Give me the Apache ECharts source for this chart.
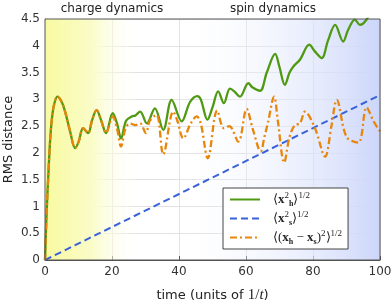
<!DOCTYPE html>
<html>
<head>
<meta charset="utf-8">
<script src="https://cdn.jsdelivr.net/npm/echarts@6/dist/echarts.min.js"></script>
<style>html,body{margin:0;padding:0;background:#fff}#c{width:391px;height:303px}</style>
</head>
<body>
<div id="c"></div>
<script>
// ---- data ----
var xTicks = [0, 20, 40, 60, 80, 100];
var yTicks = [0, 0.5, 1, 1.5, 2, 2.5, 3, 3.5, 4, 4.5];
var regionTitles = ['charge dynamics', 'spin dynamics'];
var seriesNames = ['h', 's', 'hs'];

var hT = [0,0.5,1,1.5,2,2.7,3.7,5,6,7.5,9,10,11.4,12.9,14,15.4,16.8,18.2,20.2,21.5,22.7,24.2,25.9,27,28.4,30.4,32.8,35.3,37.8,40.8,43.3,45.5,46.5,48.5,50,51.7,53.4,55.2,56.5,58.2,60.7,62,64.2,66.2,68.7,70,71.6,73,74.1,76.1,78.9,80.5,82.6,84.5,86.6,89,90.5,92.5,94,96,97.5];
var hV = [0,0.9,1.6,2.2,2.6,2.9,3.05,2.95,2.77,2.4,2.09,2.2,2.46,2.37,2.6,2.8,2.6,2.37,2.74,2.55,2.27,2.6,2.68,2.7,2.77,2.55,2.83,2.43,2.99,2.59,2.95,3.06,3.0,2.62,2.85,3.15,2.93,3.2,3.15,3.05,3.3,3.22,3.16,3.5,3.85,3.6,3.27,3.5,3.61,3.74,4.02,3.9,3.77,4.1,4.39,4.08,4.3,4.49,4.39,4.49,4.7];

var sT = [0, 100];
var sV = [0, 3.08];

var dT = [0,0.5,1,1.5,2,2.7,3.7,5,6,7.5,9,10,11.4,12.9,14,15.4,16.8,18.2,20.2,21.5,22.7,24,25.4,27,28.4,30.1,31.3,33.3,35.3,38.3,39.5,41.3,43.5,45.3,46.5,48.6,51.4,53.4,55,57.7,60.2,62,64.4,65.5,66.5,68.4,69.5,71.4,73,74.6,76.1,77.6,80.6,83.6,85.5,87.1,90,93.5,96,98,100];
var dV = [0,0.9,1.6,2.2,2.6,2.9,3.05,2.95,2.77,2.4,2.09,2.2,2.46,2.37,2.6,2.8,2.6,2.37,2.68,2.45,2.12,2.45,2.55,2.52,2.55,2.37,2.6,2.71,1.97,2.77,2.6,2.27,2.55,2.68,2.55,1.9,2.79,2.46,2.5,2.21,2.82,2.45,2.03,2.3,2.55,3.05,2.6,1.82,2.3,2.52,2.55,2.77,2.46,1.93,2.5,2.99,2.3,2.19,2.85,2.6,2.4];

function zip(a, b) { return a.map(function (t, i) { return [t, b[i]]; }); }

var chart = echarts.init(document.getElementById('c'), null, {renderer: 'canvas'});
var serif = 'Liberation Serif';
var sans = 'DejaVu Sans';
var richMath = {
  m: {fontFamily: serif, fontSize: 13, color: '#222', lineHeight: 17},
  b: {fontFamily: serif, fontSize: 13, fontWeight: 'bold', color: '#222', lineHeight: 17},
  sub: {fontFamily: serif, fontSize: 8, fontWeight: 'bold', color: '#222', verticalAlign: 'bottom', lineHeight: 17},
  sup: {fontFamily: serif, fontSize: 9, color: '#222', verticalAlign: 'top', lineHeight: 17}
};
var labels = {
  h: '{m|⟨}{b|x}{sup|2}{sub|h}{m|⟩}{sup|1/2}',
  s: '{m|⟨}{b|x}{sup|2}{sub|s}{m|⟩}{sup|1/2}',
  hs: '{m|⟨(}{b|x}{sub|h}{m| − }{b|x}{sub|s}{m|)}{sup|2}{m|⟩}{sup|1/2}'
};

chart.setOption({
  animation: false,
  grid: {left: 45, right: 11, top: 19, bottom: 43, outerBoundsMode: 'none', containLabel: false},
  title: [
    {text: regionTitles[0], left: 107, top: -2, textAlign: 'center', textStyle: {fontFamily: sans, fontSize: 12, fontWeight: 'normal', color: '#222'}},
    {text: regionTitles[1], left: 268, top: -2, textAlign: 'center', textStyle: {fontFamily: sans, fontSize: 12, fontWeight: 'normal', color: '#222'}}
  ],
  legend: {
    orient: 'vertical',
    left: 223, top: 188,
    backgroundColor: '#fff',
    borderColor: '#444', borderWidth: 1,
    padding: [3, 6, 3, 6],
    itemGap: 2, itemWidth: 30, itemHeight: 12,
    itemStyle: {opacity: 0},
    data: seriesNames.map(function (n) { return {name: n, itemStyle: {opacity: 0}}; }),
    formatter: function (n) { return labels[n]; },
    textStyle: {rich: richMath, padding: [0, 0, 0, 8]}
  },
  xAxis: {
    type: 'value', min: 0, max: 100, interval: 20,
    name: '{t|time (units of }{m|1/}{i|t}{t|)}', nameLocation: 'middle', nameGap: 28, nameMoveOverlap: false,
    nameTextStyle: {rich: {
      t: {fontFamily: sans, fontSize: 13, color: '#222'},
      m: {fontFamily: serif, fontSize: 15, color: '#222'},
      i: {fontFamily: serif, fontSize: 15, fontStyle: 'italic', color: '#222'}
    }},
    axisLine: {lineStyle: {color: '#555', width: 1}},
    axisTick: {inside: true, length: 4, lineStyle: {color: '#555'}},
    axisLabel: {fontFamily: sans, fontSize: 12, color: '#333', margin: 6,
      formatter: function (v) { return xTicks.indexOf(v) >= 0 ? String(v) : ''; }},
    splitLine: {show: true, lineStyle: {color: '#e2e2e2', width: 1}}
  },
  yAxis: {
    type: 'value', min: 0, max: 4.5, interval: 0.5,
    name: 'RMS distance', nameLocation: 'middle', nameGap: 30, nameMoveOverlap: false,
    nameTextStyle: {fontFamily: sans, fontSize: 13, color: '#222'},
    axisLine: {show: true, lineStyle: {color: '#555', width: 1}},
    axisTick: {show: true, inside: true, length: 4, lineStyle: {color: '#555'}},
    axisLabel: {fontFamily: sans, fontSize: 12, color: '#333', margin: 5, align: 'right',
      formatter: function (v) { return yTicks.indexOf(v) >= 0 ? String(v) : ''; }},
    splitLine: {show: true, lineStyle: {color: '#e2e2e2', width: 1}}
  },
  series: [
    {
      name: 'bg', type: 'line', data: [], silent: true, z: 0,
      markArea: {silent: true, data: [
        [{xAxis: 0, itemStyle: {color: new echarts.graphic.LinearGradient(0, 0, 1, 0, [
          {offset: 0, color: 'rgba(248,250,160,1)'},
          {offset: 0.5, color: 'rgba(250,252,200,1)'},
          {offset: 1, color: 'rgba(255,255,255,0)'}])}}, {xAxis: 28}],
        [{xAxis: 38, itemStyle: {color: new echarts.graphic.LinearGradient(0, 0, 1, 0, [
          {offset: 0, color: 'rgba(255,255,255,0)'},
          {offset: 1, color: 'rgba(204,214,250,1)'}])}}, {xAxis: 100}]
      ]}
    },
    {name: 'h', type: 'line', data: zip(hT, hV), smooth: 0.35, symbol: 'none', z: 3,
      lineStyle: {color: '#4f9a12', width: 2.3}, itemStyle: {color: '#6fb532'}},
    {name: 's', type: 'line', data: zip(sT, sV), symbol: 'none', z: 4,
      lineStyle: {color: '#3a62d8', width: 2, type: [7, 4]}, itemStyle: {color: '#3a62d8'}},
    {name: 'hs', type: 'line', data: zip(dT, dV), smooth: 0.35, symbol: 'none', z: 5,
      lineStyle: {color: '#e8860c', width: 2.3, type: [7, 3, 2, 3]}, itemStyle: {color: '#e8860c'}}
  ],
  graphic: [
    {type: 'rect', shape: {x: 45, y: 19, width: 335, height: 241}, style: {fill: 'none', stroke: '#555', lineWidth: 1}, z: 10, silent: true}
  ]
});
</script>
</body>
</html>
